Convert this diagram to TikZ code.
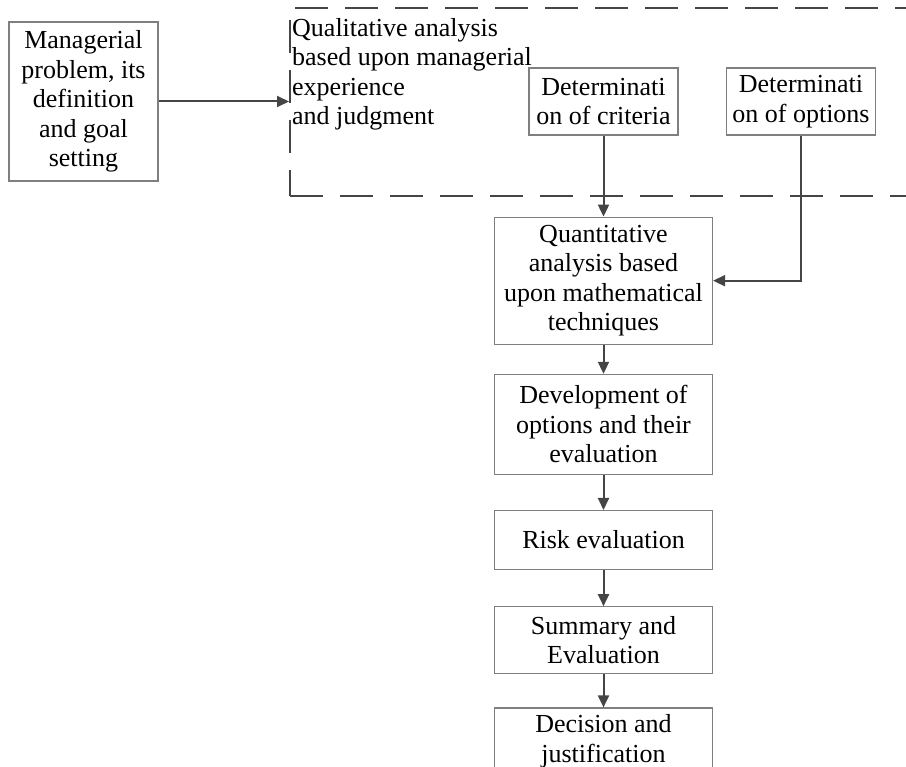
\documentclass[tikz,border=0pt]{standalone}
\usepackage{fontspec}
\setmainfont{Liberation Serif}
\usepackage{tikz}
\usetikzlibrary{arrows.meta, positioning}
\definecolor{boxGray}{HTML}{7F7F7F}
\definecolor{lineGray}{HTML}{454545}
\newcommand{\flowfont}{\fontsize{26}{29.5}\selectfont}

\begin{document}
\begin{tikzpicture}[x=1pt, y=-1pt,
  stage/.style={draw=boxGray, line width=1.2pt, fill=white, align=center,
    font=\flowfont, inner sep=2pt, minimum width=218pt},
  small/.style={draw=boxGray, line width=1.2pt, fill=white, align=center,
    font=\flowfont, inner sep=2pt, minimum width=149pt, minimum height=67pt},
  flow/.style={draw=lineGray, line width=2pt,
    -{Triangle[length=12pt, width=11pt]}},
  zone/.style={draw=lineGray, line width=2pt,
    dash pattern=on 33pt off 17pt}]
  \clip (0,0) rectangle (906,767);
  \node[zone, minimum width=700pt, minimum height=188pt, anchor=north west] (qual) at (289,7) {};
  \node[font=\flowfont, align=left, anchor=north west, inner sep=0pt] (qualtext) at (292,18) {
    Qualitative analysis\\based upon managerial\\experience\\and judgment};
  \node[small, minimum height=159pt] (problem) at (83.5,101.5) {
    Managerial\\problem, its\\definition\\and goal\\setting};
  \node[small] (crit) at (603.5,101.5) {Determinati\\on of criteria};
  \node[small] (opts) at (801,101.5) {Determinati\\on of options};
  \node[stage, minimum height=127pt, below=81pt of crit] (quant) {
    Quantitative\\analysis based\\upon mathematical\\techniques};
  \node[stage, minimum height=100pt, below=29pt of quant] (dev) {
    Development of\\options and their\\evaluation};
  \node[stage, minimum height=59pt, below=35pt of dev] (risk) {Risk evaluation};
  \node[stage, minimum height=67pt, below=36pt of risk] (summ) {Summary and\\Evaluation};
  \node[stage, minimum height=66.5pt, below=33pt of summ] (dec) {Decision and\\justification};
  \draw[flow] (problem.east) -- (problem.east -| qual.west);
  \draw[flow] (crit.south) -- (quant.north);
  \draw[flow] (opts.south) |- (quant.east);
  \draw[flow] (quant.south) -- (dev.north);
  \draw[flow] (dev.south) -- (risk.north);
  \draw[flow] (risk.south) -- (summ.north);
  \draw[flow] (summ.south) -- (dec.north);
\end{tikzpicture}
\end{document}
